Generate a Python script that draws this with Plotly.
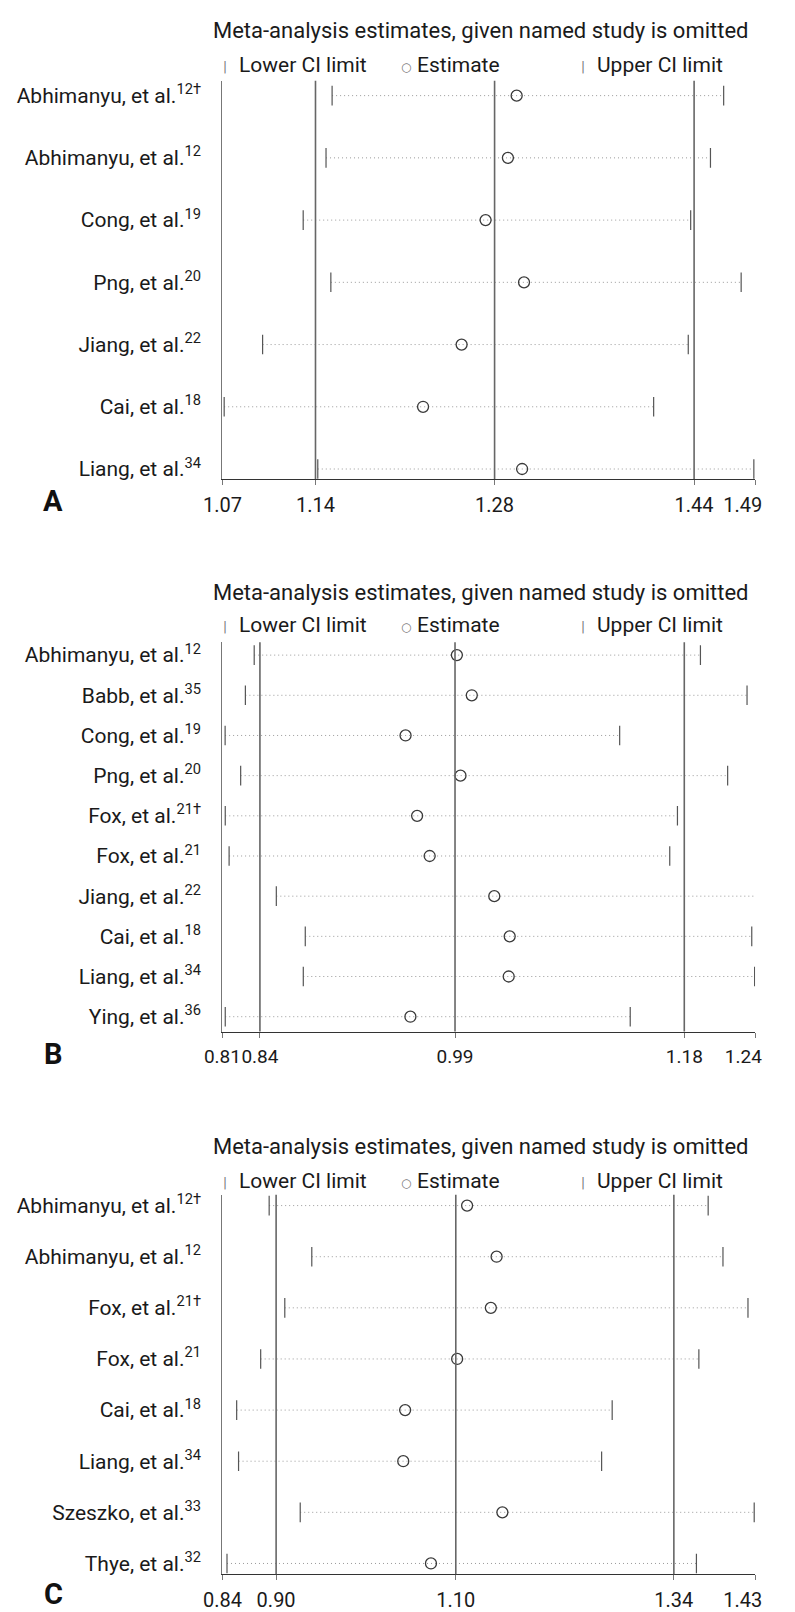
import plotly.graph_objects as go

# ---------------- data ----------------
A_labels = ["Abhimanyu, et al.<sup>12†</sup>", "Abhimanyu, et al.<sup>12</sup>", "Cong, et al.<sup>19</sup>",
            "Png, et al.<sup>20</sup>", "Jiang, et al.<sup>22</sup>", "Cai, et al.<sup>18</sup>",
            "Liang, et al.<sup>34</sup>"]
A_lower = [1.1565, 1.1517, 1.1337, 1.1555, 1.1017, 1.0714, 1.1452]
A_est = [1.3020, 1.2951, 1.2775, 1.3078, 1.2586, 1.2282, 1.3063]
A_upper = [1.4652, 1.4548, 1.4392, 1.4790, 1.4373, 1.4100, 1.4890]
A_overall = [1.1434, 1.2846, 1.4419]
A_ticks = [1.07, 1.1434, 1.2846, 1.4419, 1.49]
A_ticktext = ["1.07", "1.14", "1.28", "1.44", "1.49"]

B_labels = ["Abhimanyu, et al.<sup>12</sup>", "Babb, et al.<sup>35</sup>", "Cong, et al.<sup>19</sup>",
            "Png, et al.<sup>20</sup>", "Fox, et al.<sup>21†</sup>", "Fox, et al.<sup>21</sup>",
            "Jiang, et al.<sup>22</sup>", "Cai, et al.<sup>18</sup>", "Liang, et al.<sup>34</sup>",
            "Ying, et al.<sup>36</sup>"]
B_lower = [0.8319, 0.8248, 0.8085, 0.8210, 0.8086, 0.8117, 0.8497, 0.8730, 0.8714, 0.8086]
B_est = [0.9950, 1.0070, 0.9537, 0.9979, 0.9630, 0.9731, 1.0251, 1.0375, 1.0367, 0.9576]
B_upper = [1.1910, 1.2285, 1.1260, 1.2129, 1.1725, 1.1663, 1.2385, 1.2323, 1.2346, 1.1345]
B_overall = [0.8365, 0.9935, 1.1780]
B_ticks = [0.8063, 0.8365, 0.9935, 1.1780, 1.2350]
B_ticktext = ["0.81", "0.84", "0.99", "1.18", "1.24"]

C_labels = ["Abhimanyu, et al.<sup>12†</sup>", "Abhimanyu, et al.<sup>12</sup>", "Fox, et al.<sup>21†</sup>",
            "Fox, et al.<sup>21</sup>", "Cai, et al.<sup>18</sup>", "Liang, et al.<sup>34</sup>",
            "Szeszko, et al.<sup>33</sup>", "Thye, et al.<sup>32</sup>"]
C_lower = [0.8898, 0.9370, 0.9071, 0.8804, 0.8538, 0.8559, 0.9242, 0.8431]
C_est = [1.1090, 1.1417, 1.1353, 1.0980, 1.0404, 1.0383, 1.1481, 1.0690]
C_upper = [1.3760, 1.3924, 1.4201, 1.3657, 1.2697, 1.2580, 1.4270, 1.3630]
C_overall = [0.8975, 1.0965, 1.3380]
C_ticks = [0.838, 0.8975, 1.0965, 1.338, 1.428]
C_ticktext = ["0.84", "0.90", "1.10", "1.34", "1.43"]

NB = "\u00a0"
panels = [
    dict(letter="A", labels=A_labels, lo=A_lower, est=A_est, hi=A_upper, overall=A_overall,
         ticks=A_ticks, ticktext=A_ticktext, top=68, bottom=468, pad_top=0.24, pad_bot=0.16,
         title_y=18, legend_y=52, letter_y=490, tfs=20),
    dict(letter="B", labels=B_labels, lo=B_lower, est=B_est, hi=B_upper, overall=B_overall,
         ticks=B_ticks, ticktext=B_ticktext, top=632, bottom=1023, pad_top=0.32, pad_bot=0.37,
         title_y=582, legend_y=615, letter_y=1046, tfs=19),
    dict(letter="C", labels=C_labels, lo=C_lower, est=C_est, hi=C_upper, overall=C_overall,
         ticks=C_ticks, ticktext=C_ticktext, top=1187, bottom=1568, pad_top=0.21, pad_bot=0.21,
         title_y=1138, legend_y=1173, letter_y=1588, tfs=20),
]

W, H = 795, 1612
FONT = "Roboto"
X0, X1 = 208, 778

fig = go.Figure()
layout = dict(width=W, height=H, margin=dict(l=0, r=0, t=0, b=0),
              paper_bgcolor="white", plot_bgcolor="white", showlegend=False,
              font=dict(family=FONT, size=21, color="#1a1a1a"))
annotations = []
shapes = []

for k, p in enumerate(panels):
    sfx = "" if k == 0 else str(k + 1)
    xa, ya = "x" + sfx, "y" + sfx
    n = len(p["labels"])
    idx = list(range(n))
    xs, ys = [], []
    for i in idx:
        xs += [p["lo"][i], p["hi"][i], None]
        ys += [i, i, None]
    fig.add_trace(go.Scatter(x=xs, y=ys, mode="lines", xaxis=xa, yaxis=ya,
                             line=dict(color="#9a9a9a", width=1, dash="1px,3px"), hoverinfo="skip"))
    fig.add_trace(go.Scatter(x=p["lo"], y=idx, mode="markers", xaxis=xa, yaxis=ya,
                             marker=dict(symbol="line-ns", size=14, line=dict(color="#555", width=1.2))))
    fig.add_trace(go.Scatter(x=p["hi"], y=idx, mode="markers", xaxis=xa, yaxis=ya,
                             marker=dict(symbol="line-ns", size=14, line=dict(color="#555", width=1.2))))
    fig.add_trace(go.Scatter(x=p["est"], y=idx, mode="markers", xaxis=xa, yaxis=ya,
                             marker=dict(symbol="circle-open", size=11, color="#3a3a3a",
                                         line=dict(color="#3a3a3a", width=1.3))))
    for v in p["overall"]:
        shapes.append(dict(type="line", xref=xa, yref=ya + " domain", x0=v, x1=v, y0=0, y1=1,
                           line=dict(color="#666", width=1.6)))
    dom_y = [1 - p["bottom"] / H, 1 - p["top"] / H]
    ticktext = list(p["ticktext"])
    ticktext[-1] = ticktext[-1] + NB * 5
    layout["xaxis" + sfx] = dict(domain=[X0 / W, X1 / W], anchor=ya, range=[p["ticks"][0], p["ticks"][-1]],
                                 tickvals=p["ticks"], ticktext=ticktext, showgrid=False,
                                 zeroline=False, showline=True, linecolor="#333", linewidth=1.2,
                                 ticks="outside", ticklen=5, tickcolor="#777", tickangle=0,
                                 ticklabelstandoff=3, ticklabeloverflow="allow",
                                 tickfont=dict(size=p["tfs"], family=FONT, color="#1a1a1a"))
    layout["yaxis" + sfx] = dict(domain=dom_y, anchor=xa,
                                 range=[n - 1 + p["pad_bot"], -p["pad_top"]],
                                 tickvals=idx, ticktext=p["labels"], showgrid=False, zeroline=False,
                                 showline=True, linecolor="#777", linewidth=1.3, ticks="",
                                 ticklabelstandoff=16,
                                 tickfont=dict(size=21, family=FONT, color="#1a1a1a"))
    annotations.append(dict(xref="paper", yref="paper", x=485 / W, y=1 - p["title_y"] / H,
                            text="Meta-analysis estimates, given named study is omitted",
                            showarrow=False, xanchor="center", yanchor="middle",
                            font=dict(size=22, family=FONT, color="#1a1a1a")))
    for xsym, sym, xtxt, txt in [(211, "|", 224, "Lower CI limit"), (404, "○", 414, "Estimate"),
                                 (594, "|", 607, "Upper CI limit")]:
        annotations.append(dict(xref="paper", yref="paper", x=xsym / W, y=1 - (p["legend_y"] + 2) / H,
                                text=sym, showarrow=False, xanchor="center", yanchor="middle",
                                font=dict(size=12, family="DejaVu Sans", color="#777")))
        annotations.append(dict(xref="paper", yref="paper", x=xtxt / W, y=1 - p["legend_y"] / H,
                                text=txt, showarrow=False, xanchor="left", yanchor="middle",
                                font=dict(size=21, family=FONT, color="#1a1a1a")))
    annotations.append(dict(xref="paper", yref="paper", x=27 / W, y=1 - p["letter_y"] / H,
                            text=f"<b>{p['letter']}</b>", showarrow=False, xanchor="center",
                            yanchor="middle", font=dict(size=29, family=FONT, color="#111")))

layout["annotations"] = annotations
layout["shapes"] = shapes
fig.update_layout(**layout)
fig.write_html("out.html")
